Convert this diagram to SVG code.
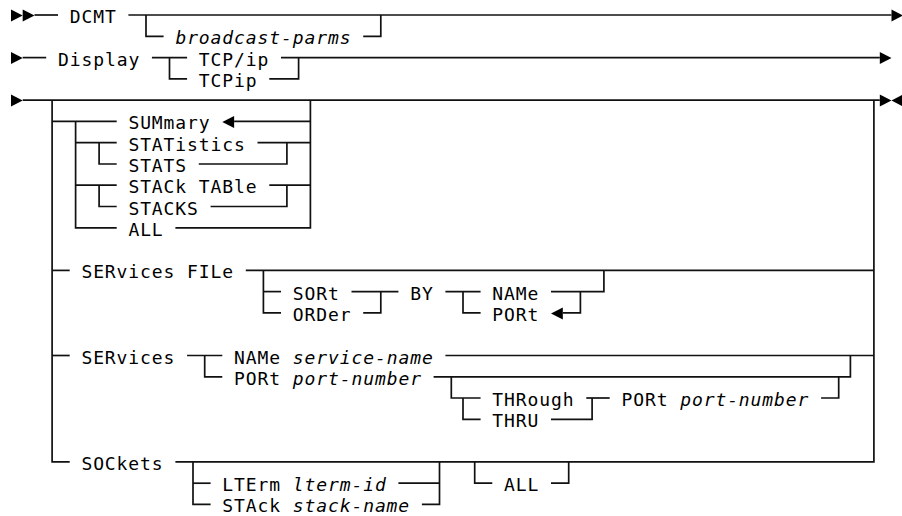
<svg xmlns="http://www.w3.org/2000/svg" width="902" height="516" viewBox="0 0 902 516">
<style>
text{font-family:"DejaVu Sans Mono","Liberation Mono",monospace;font-size:18px;letter-spacing:0.9px;fill:#000}
.v{font-style:italic}
.c path{fill:none;stroke:#111;stroke-width:1.7}
.c polygon{fill:#000;stroke:none}
</style>
<rect width="902" height="516" fill="#fff"/>
<g id="connectors" class="c">
<!-- row 0 -->
<polygon points="11,9.5 22.7,15.5 11,21.5"/>
<polygon points="22.7,9.5 34.5,15.5 22.7,21.5"/>
<path d="M34.5 15H58"/>
<path d="M128.4 15H891.5"/>
<polygon points="891.5,9.5 903,15.5 891.5,21.5"/>
<path d="M146 15V36.3H163.6"/>
<path d="M363.2 36.3H380.8V15"/>
<!-- row 2 -->
<polygon points="11,52 22.7,58 11,64"/>
<path d="M22.7 57.6H46.2"/>
<path d="M151.9 57.6H187.1"/>
<path d="M281 57.6H879.8"/>
<polygon points="879.8,52 891.5,58 879.8,64"/>
<path d="M169.5 57.6V78.8H187.1"/>
<path d="M269.3 78.8H298.6V57.6"/>
<!-- row 4 main -->
<polygon points="11,94.5 22.7,100.5 11,106.5"/>
<path d="M22.7 100.1H879.8"/>
<polygon points="879.8,94.5 891.5,100.5 879.8,106.5"/>
<polygon points="903,94.5 891.5,100.5 903,106.5"/>
<path d="M52.1 100.1V461.9H69.7"/>
<path d="M873.9 100.1V461.9H175.4"/>
<path d="M310.4 100.1V227.8H175.4"/>
<!-- SUMmary group -->
<path d="M52.1 121.4H116.7"/>
<polygon points="222.3,121.9 234.1,115.9 234.1,127.9"/>
<path d="M234.1 121.4H310.4"/>
<path d="M75.6 121.4V227.8H116.7"/>
<path d="M75.6 142.7H116.7"/>
<path d="M257.5 142.7H310.4"/>
<path d="M99.1 142.7V164H116.7"/>
<path d="M198.8 164H286.9V142.7"/>
<path d="M75.6 185.2H116.7"/>
<path d="M269.3 185.2H310.4"/>
<path d="M99.1 185.2V206.5H116.7"/>
<path d="M210.6 206.5H286.9V185.2"/>
<!-- SERvices FILe -->
<path d="M52.1 270.4H69.7"/>
<path d="M245.8 270.4H873.9"/>
<path d="M263.4 270.4V312.9H281"/>
<path d="M263.4 291.6H281"/>
<path d="M351.5 291.6H398.4"/>
<path d="M363.2 312.9H380.8V291.6"/>
<path d="M445.4 291.6H480.6"/>
<path d="M463 291.6V312.9H480.6"/>
<path d="M551 291.6H603.9V270.4"/>
<polygon points="551,313.4 562.8,307.4 562.8,319.4"/>
<path d="M562.8 312.9H580.4V291.6"/>
<!-- SERvices -->
<path d="M52.1 355.5H69.7"/>
<path d="M187.1 355.5H222.3"/>
<path d="M445.4 355.5H873.9"/>
<path d="M204.7 355.5V376.8H222.3"/>
<path d="M433.6 376.8H850.4V355.5"/>
<path d="M451.3 376.8V398H480.6"/>
<path d="M463 398V419.3H480.6"/>
<path d="M586.3 398H609.7"/>
<path d="M551 419.3H592.1V398"/>
<path d="M821.1 398H838.7V376.8"/>
<!-- SOCkets -->
<path d="M193 461.9V504.4H210.6"/>
<path d="M193 483.2H210.6"/>
<path d="M398.4 483.2H439.5"/>
<path d="M421.9 504.4H439.5V461.9"/>
<path d="M474.7 461.9V483.2H492.3"/>
<path d="M551 483.2H568.7V461.9"/>
</g>
<g id="n-dcmt"><text x="69.7" y="23">DCMT</text></g>
<g id="n-broadcast"><text class="v" x="175.4" y="44.3">broadcast-parms</text></g>
<g id="n-display"><text x="58" y="65.6">Display</text></g>
<g id="n-tcp1"><text x="198.8" y="65.6">TCP/ip</text></g>
<g id="n-tcp2"><text x="198.8" y="86.8">TCPip</text></g>
<g id="n-summary"><text x="128.4" y="129.4">SUMmary</text></g>
<g id="n-statistics"><text x="128.4" y="150.7">STATistics</text></g>
<g id="n-stats"><text x="128.4" y="172">STATS</text></g>
<g id="n-stacktable"><text x="128.4" y="193.2">STACk TABle</text></g>
<g id="n-stacks"><text x="128.4" y="214.5">STACKS</text></g>
<g id="n-all1"><text x="128.4" y="235.8">ALL</text></g>
<g id="n-servfile"><text x="81.4" y="278.4">SERvices FILe</text></g>
<g id="n-sort"><text x="292.8" y="299.6">SORt</text></g>
<g id="n-order"><text x="292.8" y="320.9">ORDer</text></g>
<g id="n-by"><text x="410.2" y="299.6">BY</text></g>
<g id="n-name1"><text x="492.3" y="299.6">NAMe</text></g>
<g id="n-port1"><text x="492.3" y="320.9">PORt</text></g>
<g id="n-services"><text x="81.4" y="363.5">SERvices</text></g>
<g id="n-name2"><text x="234.1" y="363.5">NAMe <tspan class="v">service-name</tspan></text></g>
<g id="n-port2"><text x="234.1" y="384.8">PORt <tspan class="v">port-number</tspan></text></g>
<g id="n-through"><text x="492.3" y="406">THRough</text></g>
<g id="n-thru"><text x="492.3" y="427.3">THRU</text></g>
<g id="n-port3"><text x="621.5" y="406">PORt <tspan class="v">port-number</tspan></text></g>
<g id="n-sockets"><text x="81.4" y="469.9">SOCkets</text></g>
<g id="n-lterm"><text x="222.3" y="491.2">LTErm <tspan class="v">lterm-id</tspan></text></g>
<g id="n-stack"><text x="222.3" y="512.4">STAck <tspan class="v">stack-name</tspan></text></g>
<g id="n-all2"><text x="504.1" y="491.2">ALL</text></g>
</svg>
